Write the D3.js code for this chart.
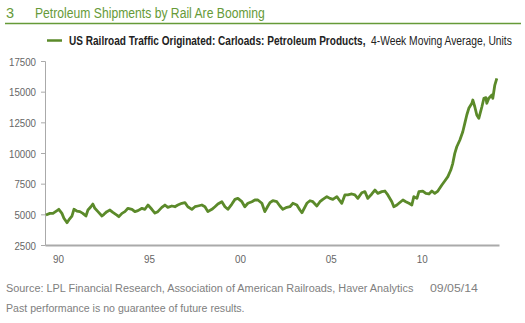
<!DOCTYPE html>
<html><head><meta charset="utf-8">
<script src="https://cdn.jsdelivr.net/npm/d3@7"></script>
<style>
body{margin:0;background:#fff;}
svg{display:block;}
text{font-family:"Liberation Sans",Arial,sans-serif;}
</style></head><body>
<svg id="c" width="525" height="323"></svg>
<script>
const titleNum = "3";
const titleText = "Petroleum Shipments by Rail Are Booming";
const legendBold = "US Railroad Traffic Originated: Carloads: Petroleum Products,";
const legendRegular = "4-Week Moving Average, Units";
const sourceText = "Source: LPL Financial Research, Association of American Railroads, Haver Analytics";
const sourceDate = "09/05/14";
const disclaimer = "Past performance is no guarantee of future results.";

const yTicks = [2500, 5000, 7500, 10000, 12500, 15000, 17500];
const xTickYears = [1990.5, 1995.5, 2000.5, 2005.5, 2010.5];
const xTickLabels = ["90", "95", "00", "05", "10"];

const years = [1989.84,1990.06,1990.23,1990.45,1990.55,1990.72,1990.83,1991.00,1991.10,1991.27,1991.38,1991.54,1991.71,1991.87,1992.04,1992.15,1992.31,1992.42,1992.53,1992.70,1992.92,1993.03,1993.19,1993.36,1993.52,1993.74,1993.85,1994.02,1994.18,1994.35,1994.57,1994.73,1994.90,1995.12,1995.28,1995.45,1995.66,1995.83,1995.99,1996.21,1996.38,1996.54,1996.76,1996.93,1997.09,1997.31,1997.48,1997.64,1997.86,1998.03,1998.19,1998.41,1998.58,1998.74,1998.96,1999.13,1999.29,1999.51,1999.68,1999.84,2000.06,2000.23,2000.39,2000.61,2000.77,2000.94,2001.16,2001.32,2001.49,2001.71,2001.87,2002.04,2002.15,2002.31,2002.53,2002.70,2002.86,2003.08,2003.25,2003.41,2003.63,2003.80,2003.91,2004.18,2004.35,2004.51,2004.73,2004.90,2005.06,2005.28,2005.45,2005.61,2005.83,2005.99,2006.10,2006.27,2006.43,2006.65,2006.82,2006.98,2007.20,2007.37,2007.53,2007.75,2007.92,2008.08,2008.30,2008.47,2008.63,2008.85,2008.96,2009.13,2009.24,2009.46,2009.62,2009.79,2009.95,2010.06,2010.23,2010.34,2010.55,2010.72,2010.89,2011.05,2011.21,2011.38,2011.60,2011.76,2011.93,2012.09,2012.20,2012.31,2012.42,2012.59,2012.75,2012.86,2012.97,2013.08,2013.25,2013.30,2013.41,2013.52,2013.63,2013.80,2013.91,2014.02,2014.07,2014.18,2014.35,2014.40,2014.51,2014.62];
const carloads = [4940,5080,5080,5300,5410,5080,4680,4320,4540,4860,5410,5270,5220,5080,4860,5350,5620,5840,5490,5220,4860,5000,5220,5350,5160,4940,4810,5080,5220,5490,5410,5220,5300,5490,5410,5760,5410,5100,5220,5570,5760,5570,5680,5620,5760,5900,5950,5620,5410,5620,5680,5760,5620,5220,5410,5620,5840,6030,5620,5410,5840,6220,6300,6030,5620,5900,6030,6170,6170,5900,5220,5680,5950,6110,6030,5680,5410,5570,5620,5900,5760,5350,5130,5900,6110,6030,5680,6030,6220,6440,6300,6220,6440,6110,5900,6580,6580,6660,6580,6300,6760,6850,6300,6660,6980,6710,6850,6900,6580,6030,5620,5760,5900,6170,6030,5900,5760,6440,6300,6850,6900,6710,6660,6900,6710,6900,7390,7720,8070,8610,9160,9970,10510,11060,11730,12420,13100,13640,14050,14320,13770,13100,12830,13770,14460,14510,14050,14460,14730,14460,15540,16080];

const green = "#669a38";
const lineGreen = "#5b8a2a";
const svg = d3.select("#c");

// Text in a condensed look: draw at (0,0) then scale horizontally to a measured width.
// anchor: "start" | "middle" | "end"
function cText(parent, str, px, py, w, attrs, anchor) {
  const t = parent.append("text").text(str);
  for (const k in attrs) t.attr(k, attrs[k]);
  t.attr("text-anchor", anchor || "start");
  const nat = t.node().getComputedTextLength();
  const s = nat > 0 ? w / nat : 1;
  t.attr("transform", `translate(${px},${py}) scale(${s},1)`);
  return t;
}

// Header
svg.append("text").attr("x", 6).attr("y", 17.5).attr("fill", green).attr("font-size", 14.5).text(titleNum);
cText(svg, titleText, 35, 17.5, 230, {fill: green, "font-size": 14.5});
svg.append("line").attr("x1", 5).attr("x2", 521).attr("y1", 23.5).attr("y2", 23.5).attr("stroke", green).attr("stroke-width", 1.3);

// Legend
svg.append("line").attr("x1", 47).attr("x2", 62).attr("y1", 40.5).attr("y2", 40.5).attr("stroke", lineGreen).attr("stroke-width", 2.5);
cText(svg, legendBold, 69, 45, 297, {fill: "#222", "font-size": 12.5, "font-weight": "bold"});
cText(svg, legendRegular, 371, 45, 141, {fill: "#222", "font-size": 12.5});

// Scales
const x = d3.scaleLinear().domain([1989.79, 2014.74]).range([45, 499]);
const y = d3.scaleLinear().domain([2500, 17500]).range([245, 61]);

// Y axis
const yAxis = svg.append("g").attr("transform", "translate(45,0)")
  .call(d3.axisLeft(y).tickValues(yTicks).tickSize(4).tickPadding(5).tickFormat(d3.format("d")));
yAxis.select(".domain").attr("stroke", "#aaa").attr("stroke-width", 1);
yAxis.selectAll(".tick line").attr("stroke", "#aaa");
yAxis.selectAll(".tick").each(function(d) {
  const g = d3.select(this);
  g.select("text").remove();
  cText(g, d3.format("d")(d), -9, 4, String(d).length * 5.4, {fill: "#666", "font-size": 11.5}, "end");
});

// X axis
const xAxis = svg.append("g").attr("transform", "translate(0,245)")
  .call(d3.axisBottom(x).tickValues(xTickYears).tickSize(0).tickPadding(9)
    .tickFormat((d, i) => xTickLabels[i]));
xAxis.select(".domain").attr("stroke", "#aaa").attr("stroke-width", 2);
xAxis.selectAll(".tick").each(function(d, i) {
  const g = d3.select(this);
  g.select("text").remove();
  cText(g, xTickLabels[i], 0, 18, 11, {fill: "#666", "font-size": 11.5}, "middle");
});

// Line
const data = years.map((t, i) => ({t, v: carloads[i]}));
svg.append("path").datum(data)
  .attr("fill", "none").attr("stroke", lineGreen).attr("stroke-width", 2.8)
  .attr("stroke-linejoin", "round")
  .attr("d", d3.line().x(d => x(d.t)).y(d => y(d.v)));

// Footer
cText(svg, sourceText, 6, 292, 408, {fill: "#808080", "font-size": 11.5});
cText(svg, sourceDate, 430, 292, 48, {fill: "#808080", "font-size": 11.5});
cText(svg, disclaimer, 6, 312, 239, {fill: "#808080", "font-size": 11.5});
</script>
</body></html>
